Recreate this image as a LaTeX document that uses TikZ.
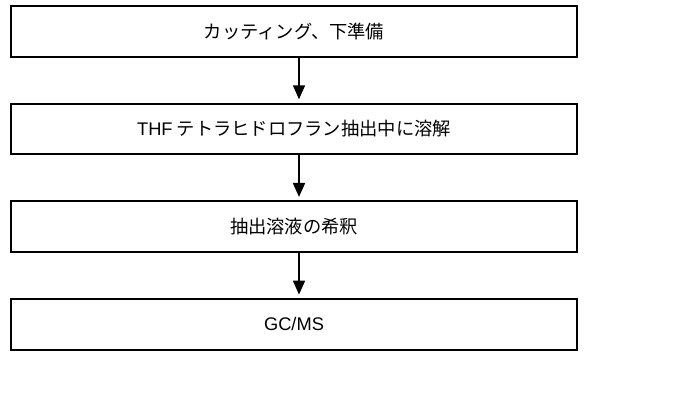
\documentclass[tikz,border=0pt]{standalone}
\usepackage{fontspec}
\usepackage{tikz}
\usetikzlibrary{arrows.meta}
\setmainfont{Noto Sans CJK JP}
\newfontfamily\latfont{Liberation Sans}

\begin{document}
\begin{tikzpicture}[
    stepbox/.style={draw, line width=1.8pt, minimum width=17cm, minimum height=1.52cm,
      inner sep=0pt, font=\fontsize{15.6}{18}\selectfont},
    flow/.style={line width=1.5pt, -{Triangle[width=0.36cm,length=0.42cm]}, shorten >=0.1cm}
  ]
    \def \cx {8.82}     % centre of the boxes
    \def \top {0.94}    % centre of the first box
    \def \pitch {2.93}  % from one box to the next
    \def \off {0.15cm}  % arrows sit a little right of centre
    \useasboundingbox (0,0) rectangle (20.7,-12.48);
    \foreach \t [count=\i] in {カッティング、下準備,
        {\latfont THF} テトラヒドロフラン抽出中に溶解,
        抽出溶液の希釈,
        {\latfont GC/MS}}
    {
      \node[stepbox] (step\i) at (\cx, {-\top - (\i-1)*\pitch}) {\t};
    }
    \foreach \i [evaluate=\i as \j using int(\i+1)] in {1,2,3}
    {
      \draw[flow] ([xshift=\off]step\i.south) -- ([xshift=\off]step\j.north);
    }
\end{tikzpicture}
\end{document}
